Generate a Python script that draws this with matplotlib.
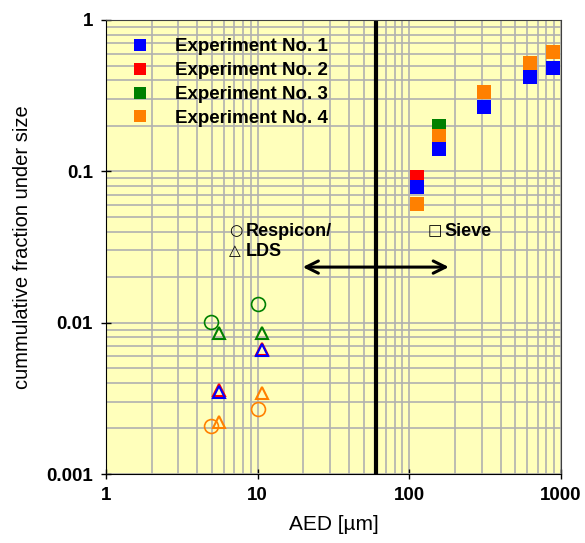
import matplotlib
matplotlib.use("Agg")
import matplotlib.pyplot as plt
import numpy as np

plt.rcParams['font.family'] = ['Liberation Sans', 'DejaVu Sans']

# sieve data (squares)
sieve_x = [113, 157, 310, 625, 886]
exp1_sieve = [0.079, 0.140, 0.267, 0.42, 0.484]
exp2_sieve = [0.092, None, None, None, None]
exp3_sieve = [None, 0.20, None, None, None]
exp4_sieve = [0.061, 0.171, 0.333, 0.52, 0.615]

# respicon (circles)
resp_x = [4.95, 10.0]
exp3_resp = [0.0101, 0.0132]
exp4_resp = [0.00208, 0.00267]

# LDS (triangles)
lds_x = [5.55, 10.7]
exp1_lds = [0.0035, 0.0066]
exp2_lds = [0.0036, 0.0067]
exp3_lds = [0.0086, 0.0086]
exp4_lds = [0.0022, 0.00344]

sieve_limit = 60

colors = {1: '#0000ff', 2: '#ff0000', 3: '#008000', 4: '#ff8000'}
labels = ['Experiment No. 1', 'Experiment No. 2', 'Experiment No. 3', 'Experiment No. 4']

def pts(xs, ys):
    xx = [x for x, y in zip(xs, ys) if y is not None]
    yy = [y for y in ys if y is not None]
    return xx, yy

fig = plt.figure(figsize=(5.85, 5.43), dpi=100)
ax = fig.add_axes([0.1812, 0.127, 0.959 - 0.1812, 0.9632 - 0.127])
ax.set_facecolor('#ffffbb')
ax.set_xscale('log')
ax.set_yscale('log')
ax.set_xlim(1, 1000)
ax.set_ylim(0.001, 1)

ax.grid(True, which='both', color='#b0b0b0', linewidth=1.2)
ax.set_axisbelow(True)

# triangles and circles
tri = dict(marker='^', ms=9, mfc='none', mew=1.5, ls='none')
cir = dict(marker='o', ms=10, mfc='none', mew=1.2, ls='none')
ax.plot(lds_x, exp3_lds, mec=colors[3], **tri)
ax.plot(lds_x, exp4_lds, mec=colors[4], **tri)
ax.plot(lds_x, exp2_lds, mec=colors[2], **tri)
ax.plot(lds_x, exp1_lds, mec=colors[1], **tri)
ax.plot(resp_x, exp3_resp, mec=colors[3], **cir)
ax.plot(resp_x, exp4_resp, mec=colors[4], **cir)

# squares
sq = dict(marker='s', ms=9.5, ls='none', mew=0)
h = {}
for k, ys in [(3, exp3_sieve), (2, exp2_sieve), (4, exp4_sieve), (1, exp1_sieve)]:
    xx, yy = pts(sieve_x, ys)
    h[k], = ax.plot(xx, yy, color=colors[k], **sq)

leg = ax.legend([h[1], h[2], h[3], h[4]], labels, loc='upper left',
                bbox_to_anchor=(0.004, 0.997), frameon=False,
                prop={'weight': 'bold', 'size': 13.5}, handletextpad=1.1,
                labelspacing=0.36, markerscale=0.95, handlelength=1.6)

ax.axvline(sieve_limit, color='black', linewidth=3)
ax.annotate('', xy=(19, 0.0233), xytext=(190, 0.0233),
            arrowprops=dict(arrowstyle='<->', lw=2.2, color='black',
                            mutation_scale=22))

# legend-like notes: symbol in DejaVu, words in bold
sym = dict(fontsize=11, va='center', ha='left', family=['DejaVu Sans'])
wrd = dict(fontsize=13, weight='bold', va='center', ha='left')
ax.text(6.5, 0.0403, '\u25cb', **sym)
ax.text(8.4, 0.0403, 'Respicon/', **wrd)
ax.text(6.5, 0.0297, '\u25b3', **sym)
ax.text(8.4, 0.0297, 'LDS', **wrd)
ax.text(132, 0.0403, '\u25a1', **sym)
ax.text(170, 0.0403, 'Sieve', **wrd)

ax.set_xticks([1, 10, 100, 1000])
ax.set_xticklabels(['1', '10', '100', '1000'])
ax.set_yticks([0.001, 0.01, 0.1, 1])
ax.set_yticklabels(['0.001', '0.01', '0.1', '1'])
ax.tick_params(which='minor', length=0)
ax.tick_params(which='major', direction='inout', length=7, width=1,
               labelsize=13.5, pad=6)
for t in ax.get_xticklabels() + ax.get_yticklabels():
    t.set_fontweight('bold')

ax.spines['top'].set_color('#404040')
ax.spines['right'].set_color('#404040')
ax.set_xlabel('AED [\u00b5m]', fontsize=15, labelpad=8)
ax.set_ylabel('cummulative fraction under size', fontsize=14.5, labelpad=10)

fig.savefig('out.png', dpi=100)
